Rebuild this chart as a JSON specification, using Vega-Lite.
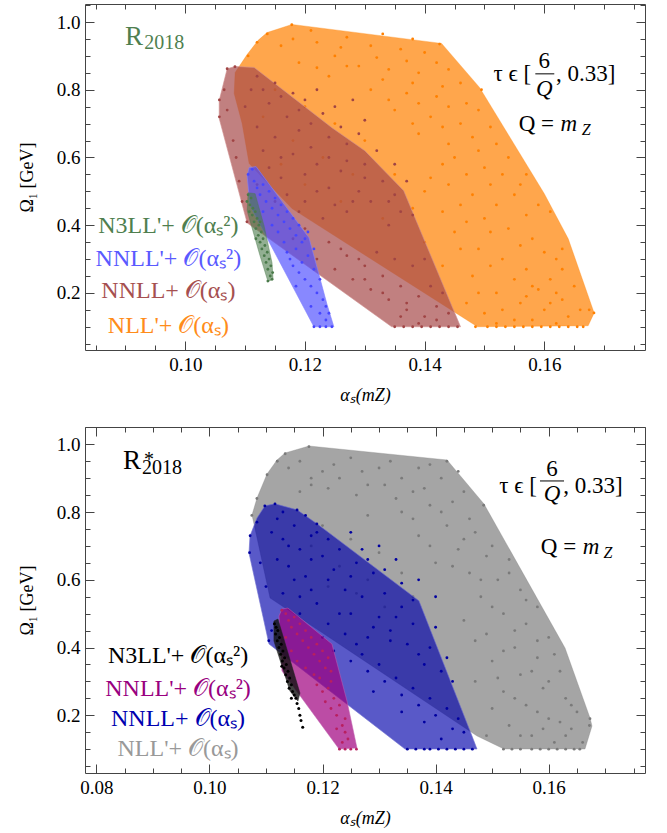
{
"$schema": "https://vega.github.io/schema/vega-lite/v6.json",
"padding": {"left": 17, "top": -5, "right": 10, "bottom": 5},
"background": "white",
"config": {
  "view": {"stroke": "#444", "strokeWidth": 1},
  "axis": {"labelFont": "Liberation Serif", "labelFontSize": 19, "labelColor": "#000", "tickColor": "#444", "domain": false, "grid": false, "titleFont": "Liberation Serif", "titleFontSize": 18, "titleFontWeight": "normal", "titleColor": "#000", "labelOverlap": false, "labelBound": false, "labelFlush": false}
},
"datasets": {
  "tp": [
    {"s":"NLLp","i":0,"x":0.11033,"y":0.904},{"s":"NLLp","i":1,"x":0.11217,"y":0.946},{"s":"NLLp","i":2,"x":0.11367,"y":0.969},{"s":"NLLp","i":3,"x":0.11783,"y":0.993},{"s":"NLLp","i":4,"x":0.14283,"y":0.937},{"s":"NLLp","i":5,"x":0.14917,"y":0.807},{"s":"NLLp","i":6,"x":0.16,"y":0.493},{"s":"NLLp","i":7,"x":0.164,"y":0.36},{"s":"NLLp","i":8,"x":0.16833,"y":0.141},{"s":"NLLp","i":9,"x":0.16733,"y":0.103},{"s":"NLLp","i":10,"x":0.14883,"y":0.1},{"s":"NLLp","i":11,"x":0.11783,"y":0.449},{"s":"NLLp","i":12,"x":0.11067,"y":0.582},{"s":"NLLp","i":13,"x":0.1095,"y":0.7},{"s":"NLLp","i":14,"x":0.10817,"y":0.789},{"s":"NLLp","i":15,"x":0.10833,"y":0.851},
    {"s":"NNLL","i":0,"x":0.107,"y":0.862},{"s":"NNLL","i":1,"x":0.10833,"y":0.869},{"s":"NNLL","i":2,"x":0.1115,"y":0.866},{"s":"NNLL","i":3,"x":0.1245,"y":0.688},{"s":"NNLL","i":4,"x":0.13,"y":0.62},{"s":"NNLL","i":5,"x":0.1365,"y":0.502},{"s":"NNLL","i":6,"x":0.146,"y":0.1},{"s":"NNLL","i":7,"x":0.1345,"y":0.1},{"s":"NNLL","i":8,"x":0.11033,"y":0.407},{"s":"NNLL","i":9,"x":0.10867,"y":0.517},{"s":"NNLL","i":10,"x":0.10567,"y":0.715},{"s":"NNLL","i":11,"x":0.10567,"y":0.768},
    {"s":"NNLLp","i":0,"x":0.11067,"y":0.57},{"s":"NNLLp","i":1,"x":0.11183,"y":0.573},{"s":"NNLLp","i":2,"x":0.12067,"y":0.363},{"s":"NNLLp","i":3,"x":0.12367,"y":0.167},{"s":"NNLLp","i":4,"x":0.12483,"y":0.1},{"s":"NNLLp","i":5,"x":0.1215,"y":0.1},{"s":"NNLLp","i":6,"x":0.11083,"y":0.457},{"s":"NNLLp","i":7,"x":0.11033,"y":0.546},
    {"s":"N3LLp","i":0,"x":0.1105,"y":0.496},{"s":"N3LLp","i":1,"x":0.11167,"y":0.493},{"s":"N3LLp","i":2,"x":0.11317,"y":0.398},{"s":"N3LLp","i":3,"x":0.1145,"y":0.289},{"s":"N3LLp","i":4,"x":0.11467,"y":0.241},{"s":"N3LLp","i":5,"x":0.11383,"y":0.233},{"s":"N3LLp","i":6,"x":0.1125,"y":0.309},{"s":"N3LLp","i":7,"x":0.11033,"y":0.443}
  ],
  "tq": [
    {"s":"NLLp","x":0.1485,"y":0.1},{"s":"NLLp","x":0.1505,"y":0.1},{"s":"NLLp","x":0.152,"y":0.1},{"s":"NLLp","x":0.1535,"y":0.1},{"s":"NLLp","x":0.155,"y":0.1},{"s":"NLLp","x":0.1565,"y":0.1},{"s":"NLLp","x":0.158,"y":0.1},{"s":"NLLp","x":0.1595,"y":0.1},{"s":"NLLp","x":0.161,"y":0.1},{"s":"NLLp","x":0.1625,"y":0.1},{"s":"NLLp","x":0.164,"y":0.1},{"s":"NLLp","x":0.1655,"y":0.1},{"s":"NLLp","x":0.1665,"y":0.1},
    {"s":"NLLp","x":0.1683,"y":0.141},{"s":"NLLp","x":0.1675,"y":0.15},{"s":"NLLp","x":0.163,"y":0.33},{"s":"NLLp","x":0.161,"y":0.44},{"s":"NLLp","x":0.1495,"y":0.8},{"s":"NLLp","x":0.1425,"y":0.935},{"s":"NLLp","x":0.1178,"y":0.992},{"s":"NLLp","x":0.1137,"y":0.965},{"s":"NLLp","x":0.112,"y":0.94},{"s":"NLLp","x":0.1105,"y":0.9},
    {"s":"NLLp","x":0.118,"y":0.95},{"s":"NLLp","x":0.122,"y":0.94},{"s":"NLLp","x":0.127,"y":0.955},{"s":"NLLp","x":0.131,"y":0.93},{"s":"NLLp","x":0.136,"y":0.92},{"s":"NLLp","x":0.14,"y":0.91},{"s":"NLLp","x":0.125,"y":0.9},{"s":"NLLp","x":0.119,"y":0.88},{"s":"NLLp","x":0.129,"y":0.87},{"s":"NLLp","x":0.134,"y":0.86},{"s":"NLLp","x":0.139,"y":0.85},{"s":"NLLp","x":0.144,"y":0.86},{"s":"NLLp","x":0.146,"y":0.82},{"s":"NLLp","x":0.124,"y":0.84},{"s":"NLLp","x":0.131,"y":0.8},{"s":"NLLp","x":0.137,"y":0.79},{"s":"NLLp","x":0.142,"y":0.78},{"s":"NLLp","x":0.147,"y":0.76},{"s":"NLLp","x":0.135,"y":0.74},{"s":"NLLp","x":0.141,"y":0.72},{"s":"NLLp","x":0.146,"y":0.7},{"s":"NLLp","x":0.151,"y":0.69},{"s":"NLLp","x":0.139,"y":0.67},{"s":"NLLp","x":0.144,"y":0.64},{"s":"NLLp","x":0.149,"y":0.62},{"s":"NLLp","x":0.154,"y":0.6},{"s":"NLLp","x":0.157,"y":0.55},{"s":"NLLp","x":0.143,"y":0.58},{"s":"NLLp","x":0.147,"y":0.55},{"s":"NLLp","x":0.151,"y":0.52},{"s":"NLLp","x":0.155,"y":0.49},{"s":"NLLp","x":0.159,"y":0.46},{"s":"NLLp","x":0.14,"y":0.5},{"s":"NLLp","x":0.146,"y":0.46},{"s":"NLLp","x":0.15,"y":0.42},{"s":"NLLp","x":0.154,"y":0.39},{"s":"NLLp","x":0.158,"y":0.36},{"s":"NLLp","x":0.162,"y":0.3},{"s":"NLLp","x":0.145,"y":0.38},{"s":"NLLp","x":0.149,"y":0.33},{"s":"NLLp","x":0.153,"y":0.3},{"s":"NLLp","x":0.157,"y":0.27},{"s":"NLLp","x":0.161,"y":0.24},{"s":"NLLp","x":0.165,"y":0.22},{"s":"NLLp","x":0.148,"y":0.25},{"s":"NLLp","x":0.152,"y":0.2},{"s":"NLLp","x":0.156,"y":0.17},{"s":"NLLp","x":0.16,"y":0.15},{"s":"NLLp","x":0.164,"y":0.13},{"s":"NLLp","x":0.15,"y":0.14},{"s":"NLLp","x":0.155,"y":0.12},{"s":"NLLp","x":0.159,"y":0.21},{"s":"NLLp","x":0.163,"y":0.18},
    {"s":"NLLp","x":0.133,"y":0.965},{"s":"NLLp","x":0.138,"y":0.95},{"s":"NLLp","x":0.121,"y":0.975},{"s":"NLLp","x":0.116,"y":0.93},{"s":"NLLp","x":0.126,"y":0.925},{"s":"NLLp","x":0.132,"y":0.895},{"s":"NLLp","x":0.137,"y":0.885},{"s":"NLLp","x":0.142,"y":0.88},{"s":"NLLp","x":0.127,"y":0.87},{"s":"NLLp","x":0.122,"y":0.865},{"s":"NLLp","x":0.133,"y":0.83},{"s":"NLLp","x":0.138,"y":0.82},{"s":"NLLp","x":0.143,"y":0.81},{"s":"NLLp","x":0.134,"y":0.77},{"s":"NLLp","x":0.139,"y":0.76},{"s":"NLLp","x":0.144,"y":0.75},{"s":"NLLp","x":0.149,"y":0.74},{"s":"NLLp","x":0.138,"y":0.7},{"s":"NLLp","x":0.143,"y":0.69},{"s":"NLLp","x":0.148,"y":0.66},{"s":"NLLp","x":0.152,"y":0.64},{"s":"NLLp","x":0.145,"y":0.6},{"s":"NLLp","x":0.15,"y":0.57},{"s":"NLLp","x":0.153,"y":0.55},{"s":"NLLp","x":0.156,"y":0.52},{"s":"NLLp","x":0.141,"y":0.54},{"s":"NLLp","x":0.144,"y":0.52},{"s":"NLLp","x":0.148,"y":0.49},{"s":"NLLp","x":0.152,"y":0.46},{"s":"NLLp","x":0.157,"y":0.43},{"s":"NLLp","x":0.143,"y":0.44},{"s":"NLLp","x":0.147,"y":0.41},{"s":"NLLp","x":0.151,"y":0.38},{"s":"NLLp","x":0.156,"y":0.34},{"s":"NLLp","x":0.16,"y":0.32},{"s":"NLLp","x":0.163,"y":0.27},{"s":"NLLp","x":0.146,"y":0.33},{"s":"NLLp","x":0.151,"y":0.28},{"s":"NLLp","x":0.155,"y":0.24},{"s":"NLLp","x":0.158,"y":0.22},{"s":"NLLp","x":0.162,"y":0.2},{"s":"NLLp","x":0.149,"y":0.2},{"s":"NLLp","x":0.153,"y":0.15},{"s":"NLLp","x":0.157,"y":0.19},{"s":"NLLp","x":0.161,"y":0.17},{"s":"NLLp","x":0.166,"y":0.15},{"s":"NLLp","x":0.158,"y":0.12},{"s":"NLLp","x":0.162,"y":0.11},{"s":"NLLp","x":0.152,"y":0.11},{"s":"NLLp","x":0.147,"y":0.17},
    {"s":"NLLp","x":0.115,"y":0.8},{"s":"NLLp","x":0.12,"y":0.75},{"s":"NLLp","x":0.125,"y":0.7},{"s":"NLLp","x":0.118,"y":0.65},{"s":"NLLp","x":0.123,"y":0.6},{"s":"NLLp","x":0.128,"y":0.55},{"s":"NLLp","x":0.13,"y":0.65},{"s":"NLLp","x":0.135,"y":0.55},{"s":"NLLp","x":0.12,"y":0.52},{"s":"NLLp","x":0.138,"y":0.45},{"s":"NLLp","x":0.133,"y":0.42},{"s":"NLLp","x":0.126,"y":0.47},{"s":"NLLp","x":0.14,"y":0.35},{"s":"NLLp","x":0.143,"y":0.28},{"s":"NLLp","x":0.116,"y":0.58},{"s":"NLLp","x":0.113,"y":0.72},
    {"s":"NNLL","x":0.107,"y":0.862},{"s":"NNLL","x":0.1083,"y":0.868},{"s":"NNLL","x":0.1057,"y":0.77},{"s":"NNLL","x":0.1057,"y":0.72},{"s":"NNLL","x":0.1065,"y":0.8},{"s":"NNLL","x":0.107,"y":0.74},{"s":"NNLL","x":0.108,"y":0.65},{"s":"NNLL","x":0.1085,"y":0.6},{"s":"NNLL","x":0.109,"y":0.53},{"s":"NNLL","x":0.1095,"y":0.47},{"s":"NNLL","x":0.1103,"y":0.41},
    {"s":"NNLL","x":0.135,"y":0.1},{"s":"NNLL","x":0.1365,"y":0.1},{"s":"NNLL","x":0.138,"y":0.1},{"s":"NNLL","x":0.1395,"y":0.1},{"s":"NNLL","x":0.141,"y":0.1},{"s":"NNLL","x":0.1425,"y":0.1},{"s":"NNLL","x":0.144,"y":0.1},{"s":"NNLL","x":0.1455,"y":0.1},
    {"s":"NNLL","x":0.122,"y":0.3},{"s":"NNLL","x":0.125,"y":0.27},{"s":"NNLL","x":0.128,"y":0.24},{"s":"NNLL","x":0.131,"y":0.21},{"s":"NNLL","x":0.134,"y":0.18},{"s":"NNLL","x":0.137,"y":0.15},{"s":"NNLL","x":0.14,"y":0.13},{"s":"NNLL","x":0.127,"y":0.31},{"s":"NNLL","x":0.13,"y":0.28},{"s":"NNLL","x":0.133,"y":0.25},{"s":"NNLL","x":0.136,"y":0.22},{"s":"NNLL","x":0.139,"y":0.19},{"s":"NNLL","x":0.142,"y":0.16},{"s":"NNLL","x":0.144,"y":0.14},{"s":"NNLL","x":0.118,"y":0.36},{"s":"NNLL","x":0.124,"y":0.35},{"s":"NNLL","x":0.132,"y":0.32},{"s":"NNLL","x":0.138,"y":0.28},{"s":"NNLL","x":0.141,"y":0.22},{"s":"NNLL","x":0.135,"y":0.3},
    {"s":"NNLL","x":0.112,"y":0.84},{"s":"NNLL","x":0.115,"y":0.82},{"s":"NNLL","x":0.118,"y":0.79},{"s":"NNLL","x":0.114,"y":0.76},{"s":"NNLL","x":0.117,"y":0.72},{"s":"NNLL","x":0.121,"y":0.7},{"s":"NNLL","x":0.119,"y":0.68},{"s":"NNLL","x":0.124,"y":0.66},{"s":"NNLL","x":0.127,"y":0.64},{"s":"NNLL","x":0.115,"y":0.66},{"s":"NNLL","x":0.118,"y":0.61},{"s":"NNLL","x":0.122,"y":0.58},{"s":"NNLL","x":0.126,"y":0.56},{"s":"NNLL","x":0.13,"y":0.58},{"s":"NNLL","x":0.133,"y":0.53},{"s":"NNLL","x":0.129,"y":0.5},{"s":"NNLL","x":0.124,"y":0.51},{"s":"NNLL","x":0.12,"y":0.55},{"s":"NNLL","x":0.113,"y":0.62},{"s":"NNLL","x":0.116,"y":0.54},{"s":"NNLL","x":0.131,"y":0.47},{"s":"NNLL","x":0.135,"y":0.49},{"s":"NNLL","x":0.127,"y":0.44},{"s":"NNLL","x":0.134,"y":0.4},{"s":"NNLL","x":0.138,"y":0.43},{"s":"NNLL","x":0.12,"y":0.47},{"s":"NNLL","x":0.123,"y":0.42},{"s":"NNLL","x":0.117,"y":0.49},{"s":"NNLL","x":0.112,"y":0.69},{"s":"NNLL","x":0.119,"y":0.74},{"s":"NNLL","x":0.125,"y":0.75},{"s":"NNLL","x":0.13,"y":0.71},{"s":"NNLL","x":0.128,"y":0.77},{"s":"NNLL","x":0.122,"y":0.8},
    {"s":"NNLL","x":0.113,"y":0.8},{"s":"NNLL","x":0.116,"y":0.78},{"s":"NNLL","x":0.12,"y":0.77},{"s":"NNLL","x":0.123,"y":0.73},{"s":"NNLL","x":0.126,"y":0.69},{"s":"NNLL","x":0.129,"y":0.67},{"s":"NNLL","x":0.132,"y":0.62},{"s":"NNLL","x":0.135,"y":0.58},{"s":"NNLL","x":0.137,"y":0.53},{"s":"NNLL","x":0.121,"y":0.63},{"s":"NNLL","x":0.124,"y":0.6},{"s":"NNLL","x":0.127,"y":0.59},{"s":"NNLL","x":0.13,"y":0.54},{"s":"NNLL","x":0.134,"y":0.47},{"s":"NNLL","x":0.136,"y":0.44},{"s":"NNLL","x":0.125,"y":0.46},{"s":"NNLL","x":0.128,"y":0.47},{"s":"NNLL","x":0.122,"y":0.5},{"s":"NNLL","x":0.119,"y":0.44},{"s":"NNLL","x":0.115,"y":0.47},{"s":"NNLL","x":0.112,"y":0.52},{"s":"NNLL","x":0.114,"y":0.57},{"s":"NNLL","x":0.116,"y":0.6},{"s":"NNLL","x":0.11,"y":0.75},{"s":"NNLL","x":0.111,"y":0.8},{"s":"NNLL","x":0.12,"y":0.39},{"s":"NNLL","x":0.126,"y":0.33},{"s":"NNLL","x":0.13,"y":0.24},{"s":"NNLL","x":0.133,"y":0.2},{"s":"NNLL","x":0.137,"y":0.17},{"s":"NNLL","x":0.142,"y":0.12},{"s":"NNLL","x":0.139,"y":0.11},{"s":"NNLL","x":0.136,"y":0.13},{"s":"NNLL","x":0.129,"y":0.3},{"s":"NNLL","x":0.14,"y":0.3},{"s":"NNLL","x":0.143,"y":0.2},
    {"s":"NNLLp","x":0.1215,"y":0.1},{"s":"NNLLp","x":0.1225,"y":0.1},{"s":"NNLLp","x":0.1235,"y":0.1},{"s":"NNLLp","x":0.1245,"y":0.1},{"s":"NNLLp","x":0.1105,"y":0.55},{"s":"NNLLp","x":0.1112,"y":0.565},{"s":"NNLLp","x":0.1115,"y":0.53},{"s":"NNLLp","x":0.112,"y":0.51},{"s":"NNLLp","x":0.1125,"y":0.49},{"s":"NNLLp","x":0.113,"y":0.52},{"s":"NNLLp","x":0.1135,"y":0.47},{"s":"NNLLp","x":0.114,"y":0.5},{"s":"NNLLp","x":0.1145,"y":0.45},{"s":"NNLLp","x":0.115,"y":0.48},{"s":"NNLLp","x":0.1155,"y":0.43},{"s":"NNLLp","x":0.116,"y":0.46},{"s":"NNLLp","x":0.1165,"y":0.41},{"s":"NNLLp","x":0.117,"y":0.44},{"s":"NNLLp","x":0.1175,"y":0.39},{"s":"NNLLp","x":0.118,"y":0.42},{"s":"NNLLp","x":0.1185,"y":0.37},{"s":"NNLLp","x":0.119,"y":0.4},{"s":"NNLLp","x":0.1195,"y":0.35},{"s":"NNLLp","x":0.12,"y":0.36},{"s":"NNLLp","x":0.1165,"y":0.35},{"s":"NNLLp","x":0.117,"y":0.32},{"s":"NNLLp","x":0.1175,"y":0.3},{"s":"NNLLp","x":0.118,"y":0.28},{"s":"NNLLp","x":0.1185,"y":0.33},{"s":"NNLLp","x":0.119,"y":0.26},{"s":"NNLLp","x":0.1195,"y":0.29},{"s":"NNLLp","x":0.12,"y":0.24},{"s":"NNLLp","x":0.1205,"y":0.31},{"s":"NNLLp","x":0.121,"y":0.22},{"s":"NNLLp","x":0.1215,"y":0.27},{"s":"NNLLp","x":0.122,"y":0.2},{"s":"NNLLp","x":0.1225,"y":0.24},{"s":"NNLLp","x":0.123,"y":0.18},{"s":"NNLLp","x":0.1235,"y":0.16},{"s":"NNLLp","x":0.1225,"y":0.14},{"s":"NNLLp","x":0.1235,"y":0.12},{"s":"NNLLp","x":0.124,"y":0.14},{"s":"NNLLp","x":0.121,"y":0.16},{"s":"NNLLp","x":0.1185,"y":0.22},{"s":"NNLLp","x":0.1155,"y":0.38},{"s":"NNLLp","x":0.1145,"y":0.4},{"s":"NNLLp","x":0.113,"y":0.44},{"s":"NNLLp","x":0.1215,"y":0.33},{"s":"NNLLp","x":0.1205,"y":0.38},
    {"s":"N3LLp","x":0.1105,"y":0.49},{"s":"N3LLp","x":0.111,"y":0.48},{"s":"N3LLp","x":0.1108,"y":0.46},{"s":"N3LLp","x":0.1113,"y":0.45},{"s":"N3LLp","x":0.1112,"y":0.43},{"s":"N3LLp","x":0.1117,"y":0.44},{"s":"N3LLp","x":0.1115,"y":0.41},{"s":"N3LLp","x":0.112,"y":0.42},{"s":"N3LLp","x":0.1118,"y":0.39},{"s":"N3LLp","x":0.1123,"y":0.4},{"s":"N3LLp","x":0.1122,"y":0.37},{"s":"N3LLp","x":0.1127,"y":0.38},{"s":"N3LLp","x":0.1125,"y":0.35},{"s":"N3LLp","x":0.113,"y":0.36},{"s":"N3LLp","x":0.1128,"y":0.33},{"s":"N3LLp","x":0.1133,"y":0.34},{"s":"N3LLp","x":0.1132,"y":0.31},{"s":"N3LLp","x":0.1137,"y":0.32},{"s":"N3LLp","x":0.1135,"y":0.29},{"s":"N3LLp","x":0.114,"y":0.3},{"s":"N3LLp","x":0.1138,"y":0.27},{"s":"N3LLp","x":0.1143,"y":0.28},{"s":"N3LLp","x":0.1142,"y":0.25},{"s":"N3LLp","x":0.1146,"y":0.26},{"s":"N3LLp","x":0.1145,"y":0.24},{"s":"N3LLp","x":0.1138,"y":0.235},{"s":"N3LLp","x":0.1103,"y":0.47},{"s":"N3LLp","x":0.1107,"y":0.44},{"s":"N3LLp","x":0.1125,"y":0.41},{"s":"N3LLp","x":0.1118,"y":0.36}
  ],
  "bp": [
    {"s":"NLLp","i":0,"x":0.10753,"y":0.7913},{"s":"NLLp","i":1,"x":0.10842,"y":0.8415},{"s":"NLLp","i":2,"x":0.11019,"y":0.9124},{"s":"NLLp","i":3,"x":0.11196,"y":0.9537},{"s":"NLLp","i":4,"x":0.11337,"y":0.9743},{"s":"NLLp","i":5,"x":0.11762,"y":0.995},{"s":"NLLp","i":6,"x":0.14202,"y":0.9537},{"s":"NLLp","i":7,"x":0.14856,"y":0.8238},{"s":"NLLp","i":8,"x":0.16289,"y":0.3987},{"s":"NLLp","i":9,"x":0.16731,"y":0.1921},{"s":"NLLp","i":10,"x":0.16766,"y":0.1685},{"s":"NLLp","i":11,"x":0.16642,"y":0.1005},{"s":"NLLp","i":12,"x":0.1521,"y":0.1005},{"s":"NLLp","i":13,"x":0.14733,"y":0.1389},{"s":"NLLp","i":14,"x":0.11072,"y":0.5463},{"s":"NLLp","i":15,"x":0.10842,"y":0.7234},
    {"s":"NNLL","i":0,"x":0.10982,"y":0.8183},{"s":"NNLL","i":1,"x":0.11159,"y":0.8242},{"s":"NNLL","i":2,"x":0.11549,"y":0.8065},{"s":"NNLL","i":3,"x":0.11903,"y":0.7652},{"s":"NNLL","i":4,"x":0.13706,"y":0.5378},{"s":"NNLL","i":5,"x":0.14608,"y":0.1541},{"s":"NNLL","i":6,"x":0.14732,"y":0.1005},{"s":"NNLL","i":7,"x":0.13459,"y":0.1005},{"s":"NNLL","i":8,"x":0.11054,"y":0.4105},{"s":"NNLL","i":9,"x":0.107,"y":0.6791},{"s":"NNLL","i":10,"x":0.10718,"y":0.7292},{"s":"NNLL","i":11,"x":0.10842,"y":0.7824},
    {"s":"NNLLp","i":0,"x":0.11283,"y":0.5136},{"s":"NNLLp","i":1,"x":0.11389,"y":0.5166},{"s":"NNLLp","i":2,"x":0.12167,"y":0.4105},{"s":"NNLLp","i":3,"x":0.12433,"y":0.2422},{"s":"NNLLp","i":4,"x":0.1261,"y":0.1035},{"s":"NNLLp","i":5,"x":0.12292,"y":0.1005},{"s":"NNLLp","i":6,"x":0.11283,"y":0.3308},{"s":"NNLLp","i":7,"x":0.1123,"y":0.4932},
    {"s":"N3LLp","i":0,"x":0.11141,"y":0.4782},{"s":"N3LLp","i":1,"x":0.11212,"y":0.4841},{"s":"N3LLp","i":2,"x":0.11601,"y":0.2657},{"s":"N3LLp","i":3,"x":0.11566,"y":0.2421},{"s":"N3LLp","i":4,"x":0.11424,"y":0.2717},{"s":"N3LLp","i":5,"x":0.11141,"y":0.4193}
  ],
  "bq": [
    {"s":"NLLp","x":0.152,"y":0.1},{"s":"NLLp","x":0.1535,"y":0.1},{"s":"NLLp","x":0.155,"y":0.1},{"s":"NLLp","x":0.157,"y":0.1},{"s":"NLLp","x":0.1585,"y":0.1},{"s":"NLLp","x":0.16,"y":0.1},{"s":"NLLp","x":0.1615,"y":0.1},{"s":"NLLp","x":0.163,"y":0.1},{"s":"NLLp","x":0.1645,"y":0.1},{"s":"NLLp","x":0.1655,"y":0.1},
    {"s":"NLLp","x":0.1176,"y":0.993},{"s":"NLLp","x":0.1134,"y":0.972},{"s":"NLLp","x":0.112,"y":0.95},{"s":"NLLp","x":0.1102,"y":0.91},{"s":"NLLp","x":0.1084,"y":0.84},{"s":"NLLp","x":0.1075,"y":0.79},{"s":"NLLp","x":0.1672,"y":0.17},{"s":"NLLp","x":0.1673,"y":0.19},{"s":"NLLp","x":0.1485,"y":0.82},{"s":"NLLp","x":0.142,"y":0.95},
    {"s":"NLLp","x":0.114,"y":0.93},{"s":"NLLp","x":0.118,"y":0.9},{"s":"NLLp","x":0.122,"y":0.94},{"s":"NLLp","x":0.127,"y":0.92},{"s":"NLLp","x":0.132,"y":0.95},{"s":"NLLp","x":0.137,"y":0.93},{"s":"NLLp","x":0.141,"y":0.9},{"s":"NLLp","x":0.116,"y":0.86},{"s":"NLLp","x":0.121,"y":0.87},{"s":"NLLp","x":0.126,"y":0.85},{"s":"NLLp","x":0.131,"y":0.88},{"s":"NLLp","x":0.136,"y":0.86},{"s":"NLLp","x":0.145,"y":0.86},{"s":"NLLp","x":0.139,"y":0.82},{"s":"NLLp","x":0.134,"y":0.8},{"s":"NLLp","x":0.128,"y":0.79},{"s":"NLLp","x":0.142,"y":0.76},{"s":"NLLp","x":0.147,"y":0.74},{"s":"NLLp","x":0.137,"y":0.73},{"s":"NLLp","x":0.144,"y":0.69},{"s":"NLLp","x":0.149,"y":0.67},{"s":"NLLp","x":0.153,"y":0.66},{"s":"NLLp","x":0.14,"y":0.65},{"s":"NLLp","x":0.146,"y":0.62},{"s":"NLLp","x":0.151,"y":0.6},{"s":"NLLp","x":0.155,"y":0.57},{"s":"NLLp","x":0.158,"y":0.52},{"s":"NLLp","x":0.148,"y":0.55},{"s":"NLLp","x":0.152,"y":0.5},{"s":"NLLp","x":0.156,"y":0.47},{"s":"NLLp","x":0.16,"y":0.43},{"s":"NLLp","x":0.145,"y":0.48},{"s":"NLLp","x":0.149,"y":0.44},{"s":"NLLp","x":0.154,"y":0.4},{"s":"NLLp","x":0.158,"y":0.37},{"s":"NLLp","x":0.162,"y":0.33},{"s":"NLLp","x":0.15,"y":0.36},{"s":"NLLp","x":0.155,"y":0.32},{"s":"NLLp","x":0.159,"y":0.28},{"s":"NLLp","x":0.163,"y":0.25},{"s":"NLLp","x":0.152,"y":0.27},{"s":"NLLp","x":0.156,"y":0.23},{"s":"NLLp","x":0.16,"y":0.19},{"s":"NLLp","x":0.164,"y":0.16},{"s":"NLLp","x":0.153,"y":0.17},{"s":"NLLp","x":0.157,"y":0.14},{"s":"NLLp","x":0.161,"y":0.12},{"s":"NLLp","x":0.149,"y":0.14},{"s":"NLLp","x":0.165,"y":0.21},{"s":"NLLp","x":0.147,"y":0.3},
    {"s":"NLLp","x":0.116,"y":0.95},{"s":"NLLp","x":0.12,"y":0.92},{"s":"NLLp","x":0.125,"y":0.96},{"s":"NLLp","x":0.13,"y":0.93},{"s":"NLLp","x":0.134,"y":0.9},{"s":"NLLp","x":0.139,"y":0.94},{"s":"NLLp","x":0.144,"y":0.92},{"s":"NLLp","x":0.118,"y":0.88},{"s":"NLLp","x":0.123,"y":0.9},{"s":"NLLp","x":0.128,"y":0.88},{"s":"NLLp","x":0.133,"y":0.84},{"s":"NLLp","x":0.138,"y":0.87},{"s":"NLLp","x":0.143,"y":0.83},{"s":"NLLp","x":0.136,"y":0.78},{"s":"NLLp","x":0.141,"y":0.8},{"s":"NLLp","x":0.146,"y":0.78},{"s":"NLLp","x":0.139,"y":0.7},{"s":"NLLp","x":0.145,"y":0.72},{"s":"NLLp","x":0.15,"y":0.7},{"s":"NLLp","x":0.143,"y":0.64},{"s":"NLLp","x":0.148,"y":0.6},{"s":"NLLp","x":0.153,"y":0.62},{"s":"NLLp","x":0.156,"y":0.54},{"s":"NLLp","x":0.15,"y":0.52},{"s":"NLLp","x":0.154,"y":0.45},{"s":"NLLp","x":0.158,"y":0.42},{"s":"NLLp","x":0.161,"y":0.38},{"s":"NLLp","x":0.147,"y":0.42},{"s":"NLLp","x":0.152,"y":0.39},{"s":"NLLp","x":0.157,"y":0.33},{"s":"NLLp","x":0.16,"y":0.3},{"s":"NLLp","x":0.164,"y":0.23},{"s":"NLLp","x":0.151,"y":0.31},{"s":"NLLp","x":0.154,"y":0.25},{"s":"NLLp","x":0.158,"y":0.21},{"s":"NLLp","x":0.162,"y":0.18},{"s":"NLLp","x":0.166,"y":0.12},{"s":"NLLp","x":0.155,"y":0.14},{"s":"NLLp","x":0.159,"y":0.16},{"s":"NLLp","x":0.163,"y":0.14},{"s":"NLLp","x":0.15,"y":0.22},
    {"s":"NLLp","x":0.12,"y":0.76},{"s":"NLLp","x":0.125,"y":0.72},{"s":"NLLp","x":0.13,"y":0.68},{"s":"NLLp","x":0.118,"y":0.7},{"s":"NLLp","x":0.123,"y":0.64},{"s":"NLLp","x":0.128,"y":0.6},{"s":"NLLp","x":0.134,"y":0.62},{"s":"NLLp","x":0.136,"y":0.55},{"s":"NLLp","x":0.131,"y":0.52},{"s":"NLLp","x":0.126,"y":0.56},{"s":"NLLp","x":0.121,"y":0.58},
    {"s":"NNLL","x":0.135,"y":0.1},{"s":"NNLL","x":0.1365,"y":0.1},{"s":"NNLL","x":0.138,"y":0.1},{"s":"NNLL","x":0.139,"y":0.1},{"s":"NNLL","x":0.1405,"y":0.1},{"s":"NNLL","x":0.142,"y":0.1},{"s":"NNLL","x":0.1435,"y":0.1},{"s":"NNLL","x":0.145,"y":0.1},{"s":"NNLL","x":0.1465,"y":0.1},
    {"s":"NNLL","x":0.1098,"y":0.818},{"s":"NNLL","x":0.1116,"y":0.824},{"s":"NNLL","x":0.1155,"y":0.806},{"s":"NNLL","x":0.119,"y":0.765},{"s":"NNLL","x":0.1071,"y":0.68},{"s":"NNLL","x":0.1072,"y":0.73},{"s":"NNLL","x":0.1084,"y":0.77},{"s":"NNLL","x":0.109,"y":0.65},{"s":"NNLL","x":0.11,"y":0.58},{"s":"NNLL","x":0.1105,"y":0.42},{"s":"NNLL","x":0.111,"y":0.45},
    {"s":"NNLL","x":0.122,"y":0.39},{"s":"NNLL","x":0.125,"y":0.36},{"s":"NNLL","x":0.128,"y":0.33},{"s":"NNLL","x":0.131,"y":0.3},{"s":"NNLL","x":0.134,"y":0.26},{"s":"NNLL","x":0.137,"y":0.23},{"s":"NNLL","x":0.14,"y":0.2},{"s":"NNLL","x":0.143,"y":0.16},{"s":"NNLL","x":0.127,"y":0.38},{"s":"NNLL","x":0.13,"y":0.35},{"s":"NNLL","x":0.133,"y":0.31},{"s":"NNLL","x":0.136,"y":0.28},{"s":"NNLL","x":0.139,"y":0.25},{"s":"NNLL","x":0.142,"y":0.22},{"s":"NNLL","x":0.145,"y":0.15},{"s":"NNLL","x":0.138,"y":0.18},{"s":"NNLL","x":0.141,"y":0.13},{"s":"NNLL","x":0.134,"y":0.21},{"s":"NNLL","x":0.129,"y":0.27},{"s":"NNLL","x":0.144,"y":0.19},
    {"s":"NNLL","x":0.112,"y":0.78},{"s":"NNLL","x":0.115,"y":0.76},{"s":"NNLL","x":0.118,"y":0.73},{"s":"NNLL","x":0.113,"y":0.72},{"s":"NNLL","x":0.116,"y":0.69},{"s":"NNLL","x":0.12,"y":0.67},{"s":"NNLL","x":0.123,"y":0.69},{"s":"NNLL","x":0.126,"y":0.65},{"s":"NNLL","x":0.129,"y":0.62},{"s":"NNLL","x":0.114,"y":0.64},{"s":"NNLL","x":0.117,"y":0.61},{"s":"NNLL","x":0.121,"y":0.6},{"s":"NNLL","x":0.124,"y":0.57},{"s":"NNLL","x":0.127,"y":0.55},{"s":"NNLL","x":0.131,"y":0.56},{"s":"NNLL","x":0.134,"y":0.52},{"s":"NNLL","x":0.13,"y":0.49},{"s":"NNLL","x":0.125,"y":0.5},{"s":"NNLL","x":0.119,"y":0.53},{"s":"NNLL","x":0.116,"y":0.55},{"s":"NNLL","x":0.132,"y":0.45},{"s":"NNLL","x":0.136,"y":0.47},{"s":"NNLL","x":0.128,"y":0.43},{"s":"NNLL","x":0.135,"y":0.41},{"s":"NNLL","x":0.139,"y":0.4},{"s":"NNLL","x":0.121,"y":0.47},{"s":"NNLL","x":0.124,"y":0.44},{"s":"NNLL","x":0.119,"y":0.74},{"s":"NNLL","x":0.125,"y":0.74},{"s":"NNLL","x":0.13,"y":0.7},{"s":"NNLL","x":0.133,"y":0.66},{"s":"NNLL","x":0.137,"y":0.6},{"s":"NNLL","x":0.14,"y":0.55},{"s":"NNLL","x":0.138,"y":0.35},{"s":"NNLL","x":0.141,"y":0.33},
    {"s":"NNLL","x":0.113,"y":0.8},{"s":"NNLL","x":0.117,"y":0.79},{"s":"NNLL","x":0.114,"y":0.7},{"s":"NNLL","x":0.118,"y":0.66},{"s":"NNLL","x":0.122,"y":0.63},{"s":"NNLL","x":0.125,"y":0.61},{"s":"NNLL","x":0.128,"y":0.66},{"s":"NNLL","x":0.131,"y":0.63},{"s":"NNLL","x":0.134,"y":0.59},{"s":"NNLL","x":0.136,"y":0.54},{"s":"NNLL","x":0.133,"y":0.49},{"s":"NNLL","x":0.129,"y":0.46},{"s":"NNLL","x":0.126,"y":0.41},{"s":"NNLL","x":0.123,"y":0.5},{"s":"NNLL","x":0.118,"y":0.57},{"s":"NNLL","x":0.115,"y":0.6},{"s":"NNLL","x":0.112,"y":0.66},{"s":"NNLL","x":0.121,"y":0.72},{"s":"NNLL","x":0.127,"y":0.69},{"s":"NNLL","x":0.132,"y":0.42},{"s":"NNLL","x":0.137,"y":0.38},{"s":"NNLL","x":0.14,"y":0.46},{"s":"NNLL","x":0.142,"y":0.37},{"s":"NNLL","x":0.143,"y":0.3},{"s":"NNLL","x":0.111,"y":0.74},{"s":"NNLL","x":0.113,"y":0.56},{"s":"NNLL","x":0.116,"y":0.5},{"s":"NNLL","x":0.12,"y":0.43},
    {"s":"NNLLp","x":0.123,"y":0.1},{"s":"NNLLp","x":0.124,"y":0.1},{"s":"NNLLp","x":0.125,"y":0.1},{"s":"NNLLp","x":0.126,"y":0.1},{"s":"NNLLp","x":0.1128,"y":0.51},{"s":"NNLLp","x":0.1135,"y":0.5},{"s":"NNLLp","x":0.114,"y":0.48},{"s":"NNLLp","x":0.1145,"y":0.46},{"s":"NNLLp","x":0.115,"y":0.49},{"s":"NNLLp","x":0.1155,"y":0.44},{"s":"NNLLp","x":0.116,"y":0.47},{"s":"NNLLp","x":0.1165,"y":0.42},{"s":"NNLLp","x":0.117,"y":0.45},{"s":"NNLLp","x":0.1175,"y":0.4},{"s":"NNLLp","x":0.118,"y":0.43},{"s":"NNLLp","x":0.1185,"y":0.38},{"s":"NNLLp","x":0.119,"y":0.41},{"s":"NNLLp","x":0.1195,"y":0.36},{"s":"NNLLp","x":0.12,"y":0.39},{"s":"NNLLp","x":0.1205,"y":0.34},{"s":"NNLLp","x":0.121,"y":0.37},{"s":"NNLLp","x":0.1215,"y":0.3},{"s":"NNLLp","x":0.1185,"y":0.32},{"s":"NNLLp","x":0.119,"y":0.29},{"s":"NNLLp","x":0.1195,"y":0.31},{"s":"NNLLp","x":0.12,"y":0.27},{"s":"NNLLp","x":0.1205,"y":0.24},{"s":"NNLLp","x":0.121,"y":0.28},{"s":"NNLLp","x":0.1215,"y":0.22},{"s":"NNLLp","x":0.122,"y":0.25},{"s":"NNLLp","x":0.1225,"y":0.2},{"s":"NNLLp","x":0.123,"y":0.23},{"s":"NNLLp","x":0.1235,"y":0.17},{"s":"NNLLp","x":0.124,"y":0.15},{"s":"NNLLp","x":0.1245,"y":0.13},{"s":"NNLLp","x":0.1235,"y":0.12},{"s":"NNLLp","x":0.1225,"y":0.16},{"s":"NNLLp","x":0.1145,"y":0.39},{"s":"NNLLp","x":0.1155,"y":0.36},{"s":"NNLLp","x":0.117,"y":0.34},{"s":"NNLLp","x":0.1135,"y":0.43},{"s":"NNLLp","x":0.124,"y":0.19},{"s":"NNLLp","x":0.1215,"y":0.33},
    {"s":"N3LLp","x":0.1115,"y":0.47},{"s":"N3LLp","x":0.1118,"y":0.46},{"s":"N3LLp","x":0.1117,"y":0.44},{"s":"N3LLp","x":0.1121,"y":0.45},{"s":"N3LLp","x":0.112,"y":0.42},{"s":"N3LLp","x":0.1124,"y":0.43},{"s":"N3LLp","x":0.1123,"y":0.4},{"s":"N3LLp","x":0.1127,"y":0.41},{"s":"N3LLp","x":0.1126,"y":0.38},{"s":"N3LLp","x":0.113,"y":0.39},{"s":"N3LLp","x":0.1129,"y":0.36},{"s":"N3LLp","x":0.1133,"y":0.37},{"s":"N3LLp","x":0.1132,"y":0.34},{"s":"N3LLp","x":0.1136,"y":0.35},{"s":"N3LLp","x":0.1135,"y":0.32},{"s":"N3LLp","x":0.1139,"y":0.33},{"s":"N3LLp","x":0.1138,"y":0.3},{"s":"N3LLp","x":0.1142,"y":0.31},{"s":"N3LLp","x":0.1141,"y":0.28},{"s":"N3LLp","x":0.1145,"y":0.29},{"s":"N3LLp","x":0.1147,"y":0.27},{"s":"N3LLp","x":0.115,"y":0.26},{"s":"N3LLp","x":0.1153,"y":0.25},{"s":"N3LLp","x":0.1155,"y":0.235},{"s":"N3LLp","x":0.1158,"y":0.22},{"s":"N3LLp","x":0.116,"y":0.2},{"s":"N3LLp","x":0.1162,"y":0.185},{"s":"N3LLp","x":0.1165,"y":0.165},{"s":"N3LLp","x":0.1145,"y":0.25},{"s":"N3LLp","x":0.1128,"y":0.345}
  ],
  "tt": [
    {"role":"leg","s":"N3LLp","t":"N3LL'+ 𝒪(αₛ²)","x":0.09717,"y":0.398},
    {"role":"leg","s":"NNLLp","t":"NNLL'+ 𝒪(αₛ²)","x":0.09717,"y":0.3006},
    {"role":"leg","s":"NNLL","t":"NNLL+ 𝒪(αₛ)","x":0.09717,"y":0.2059},
    {"role":"leg","s":"NLLp","t":"NLL'+ 𝒪(αₛ)","x":0.09717,"y":0.1024},
    {"role":"ann","t":"τ ϵ [","x":0.15467,"y":0.827},
    {"role":"ann","t":"6","x":0.16,"y":0.8657},
    {"role":"ann","t":", 0.33]","x":0.16692,"y":0.827},
    {"role":"ann","t":"Q =","x":0.15867,"y":0.679},
    {"role":"it","t":"Q","x":0.16,"y":0.783},
    {"role":"it","t":"m","x":0.16408,"y":0.679},
    {"role":"sub","t":"Z","x":0.167,"y":0.667},
    {"role":"R","t":"R","x":0.09142,"y":0.9308},
    {"role":"R2","t":"2018","x":0.0965,"y":0.919},
    {"role":"bar","x":0.1585,"x2":0.16167,"y":0.847}
  ],
  "bt": [
    {"role":"leg","s":"N3LLp","t":"N3LL'+ 𝒪(αₛ²)","x":0.09445,"y":0.375},
    {"role":"leg","s":"NNLLp","t":"NNLL'+ 𝒪(αₛ²)","x":0.09445,"y":0.2774},
    {"role":"leg","s":"NNLL","t":"NNLL+ 𝒪(αₛ)","x":0.09445,"y":0.189},
    {"role":"leg","s":"NLLp","t":"NLL'+ 𝒪(αₛ)","x":0.09445,"y":0.1005},
    {"role":"ann","t":"τ ϵ [","x":0.15457,"y":0.8562},
    {"role":"ann","t":"6","x":0.16058,"y":0.9064},
    {"role":"ann","t":", 0.33]","x":0.16783,"y":0.8562},
    {"role":"ann","t":"Q =","x":0.16173,"y":0.676},
    {"role":"it","t":"Q","x":0.16058,"y":0.8327},
    {"role":"it","t":"m","x":0.16748,"y":0.676},
    {"role":"sub","t":"Z","x":0.17049,"y":0.6644},
    {"role":"R","t":"R","x":0.08631,"y":0.9272},
    {"role":"R2","t":"2018","x":0.09162,"y":0.9124},
    {"role":"R2","t":"*","x":0.0893,"y":0.936},
    {"role":"bar","x":0.15846,"x2":0.16271,"y":0.8917}
  ]
},
"resolve": {"scale": {"color": "independent"}},
"spacing": 77,
"bounds": "flush",
"vconcat": [
  {
    "width": 560, "height": 346,
    "encoding": {
      "x": {"field": "x", "type": "quantitative", "scale": {"domain": [0.08324, 0.17683], "nice": false, "zero": false}, "axis": null},
      "y": {"field": "y", "type": "quantitative", "scale": {"domain": [0.0314, 1.0533], "nice": false, "zero": false}, "axis": null}
    },
    "resolve": {"axis": {"x": "independent", "y": "independent"}},
    "layer": [
      {"data": {"name": "tp"}, "transform": [{"filter": "datum.s=='NLLp'"}],
       "mark": {"type": "line", "interpolate": "linear-closed", "fill": "#ff8000", "fillOpacity": 0.7, "stroke": "#ff8000", "strokeOpacity": 0.3, "strokeWidth": 1},
       "encoding": {
         "order": {"field": "i", "type": "quantitative"},
         "x": {"field": "x", "type": "quantitative", "scale": {"domain": [0.08324, 0.17683], "nice": false, "zero": false},
           "axis": {"orient": "bottom", "values": [0.085,0.09,0.095,0.1,0.105,0.11,0.115,0.12,0.125,0.13,0.135,0.14,0.145,0.15,0.155,0.16,0.165,0.17,0.175], "labelExpr": "abs(datum.value*50-round(datum.value*50))<0.001 ? format(datum.value,'.2f') : ''", "tickSize": {"condition": {"test": "abs(datum.value*50-round(datum.value*50))<0.001", "value": -9}, "value": -5}, "labelPadding": 14, "title": "αₛ(mZ)", "titleFontStyle": "italic", "titlePadding": 8}},
         "y": {"field": "y", "type": "quantitative", "scale": {"domain": [0.0314, 1.0533], "nice": false, "zero": false},
           "axis": {"orient": "left", "values": [0.05,0.1,0.15,0.2,0.25,0.3,0.35,0.4,0.45,0.5,0.55,0.6,0.65,0.7,0.75,0.8,0.85,0.9,0.95,1.0,1.05], "labelExpr": "abs(datum.value*5-round(datum.value*5))<0.001 ? format(datum.value,'.1f') : ''", "tickSize": {"condition": {"test": "abs(datum.value*5-round(datum.value*5))<0.001", "value": -9}, "value": -5}, "labelPadding": 14, "title": "Ω₁ [GeV]", "titlePadding": 20}}
       }},
      {"data": {"name": "tq"}, "transform": [{"filter": "datum.s=='NLLp'"}],
       "mark": {"type": "circle", "size": 8, "opacity": 1, "color": "#ff8000"},
       "encoding": {
         "x": {"field": "x", "type": "quantitative", "scale": {"domain": [0.08324, 0.17683], "nice": false, "zero": false},
           "axis": {"orient": "top", "values": [0.085,0.09,0.095,0.1,0.105,0.11,0.115,0.12,0.125,0.13,0.135,0.14,0.145,0.15,0.155,0.16,0.165,0.17,0.175], "labels": false, "tickSize": {"condition": {"test": "abs(datum.value*50-round(datum.value*50))<0.001", "value": -9}, "value": -5}, "title": null}},
         "y": {"field": "y", "type": "quantitative", "scale": {"domain": [0.0314, 1.0533], "nice": false, "zero": false},
           "axis": {"orient": "right", "values": [0.05,0.1,0.15,0.2,0.25,0.3,0.35,0.4,0.45,0.5,0.55,0.6,0.65,0.7,0.75,0.8,0.85,0.9,0.95,1.0,1.05], "labels": false, "tickSize": {"condition": {"test": "abs(datum.value*5-round(datum.value*5))<0.001", "value": -9}, "value": -5}, "title": null}}
       }},
      {"data": {"name": "tp"}, "transform": [{"filter": "datum.s=='NNLL'"}],
       "mark": {"type": "line", "interpolate": "linear-closed", "fill": "#a64a4a", "fillOpacity": 0.7, "stroke": "#d09090", "strokeOpacity": 0.6, "strokeWidth": 1},
       "encoding": {"order": {"field": "i", "type": "quantitative"}}},
      {"data": {"name": "tq"}, "transform": [{"filter": "datum.s=='NNLL'"}],
       "mark": {"type": "circle", "size": 8, "opacity": 1, "color": "#a04444"}},
      {"data": {"name": "tp"}, "transform": [{"filter": "datum.s=='NNLLp'"}],
       "mark": {"type": "line", "interpolate": "linear-closed", "fill": "#4a4aff", "fillOpacity": 0.66, "stroke": "#8080ff", "strokeOpacity": 0.6, "strokeWidth": 1},
       "encoding": {"order": {"field": "i", "type": "quantitative"}}},
      {"data": {"name": "tq"}, "transform": [{"filter": "datum.s=='NNLLp'"}],
       "mark": {"type": "circle", "size": 8, "opacity": 1, "color": "#4646ff"}},
      {"data": {"name": "tp"}, "transform": [{"filter": "datum.s=='N3LLp'"}],
       "mark": {"type": "line", "interpolate": "linear-closed", "fill": "#4a7a4a", "fillOpacity": 0.6, "stroke": "#4a7a4a", "strokeOpacity": 0.4, "strokeWidth": 1},
       "encoding": {"order": {"field": "i", "type": "quantitative"}}},
      {"data": {"name": "tq"}, "transform": [{"filter": "datum.s=='N3LLp'"}],
       "mark": {"type": "circle", "size": 8, "opacity": 1, "color": "#4a7a4a"}},
      {"data": {"name": "tt"}, "transform": [{"filter": "datum.role=='leg'"}],
       "mark": {"type": "text", "font": "Liberation Serif", "fontSize": 24, "align": "center", "baseline": "middle"},
       "encoding": {"text": {"field": "t"}, "color": {"field": "s", "type": "nominal", "scale": {"domain": ["N3LLp", "NNLLp", "NNLL", "NLLp"], "range": ["#4f7f4f", "#5a5aff", "#a65050", "#ff8c1a"]}, "legend": null}}},
      {"data": {"name": "tt"}, "transform": [{"filter": "datum.role=='ann'"}],
       "mark": {"type": "text", "font": "Liberation Serif", "fontSize": 23, "align": "center", "baseline": "alphabetic", "color": "#000"},
       "encoding": {"text": {"field": "t"}}},
      {"data": {"name": "tt"}, "transform": [{"filter": "datum.role=='it'"}],
       "mark": {"type": "text", "font": "Liberation Serif", "fontSize": 23, "fontStyle": "italic", "align": "center", "baseline": "alphabetic", "color": "#000"},
       "encoding": {"text": {"field": "t"}}},
      {"data": {"name": "tt"}, "transform": [{"filter": "datum.role=='sub'"}],
       "mark": {"type": "text", "font": "Liberation Serif", "fontSize": 16, "fontStyle": "italic", "align": "center", "baseline": "alphabetic", "color": "#000"},
       "encoding": {"text": {"field": "t"}}},
      {"data": {"name": "tt"}, "transform": [{"filter": "datum.role=='R'"}],
       "mark": {"type": "text", "font": "Liberation Serif", "fontSize": 27, "align": "center", "baseline": "alphabetic", "color": "#4f7f4f"},
       "encoding": {"text": {"field": "t"}}},
      {"data": {"name": "tt"}, "transform": [{"filter": "datum.role=='R2'"}],
       "mark": {"type": "text", "font": "Liberation Serif", "fontSize": 20, "align": "center", "baseline": "alphabetic", "color": "#4f7f4f"},
       "encoding": {"text": {"field": "t"}}},
      {"data": {"name": "tt"}, "transform": [{"filter": "datum.role=='bar'"}],
       "mark": {"type": "rule", "color": "#000", "strokeWidth": 1},
       "encoding": {"x2": {"field": "x2"}}}
    ]
  },
  {
    "width": 560, "height": 346,
    "encoding": {
      "x": {"field": "x", "type": "quantitative", "scale": {"domain": [0.078, 0.17703], "nice": false, "zero": false}, "axis": null},
      "y": {"field": "y", "type": "quantitative", "scale": {"domain": [0.0297, 1.051], "nice": false, "zero": false}, "axis": null}
    },
    "resolve": {"axis": {"x": "independent", "y": "independent"}},
    "layer": [
      {"data": {"name": "bp"}, "transform": [{"filter": "datum.s=='NLLp'"}],
       "mark": {"type": "line", "interpolate": "linear-closed", "fill": "#7f7f7f", "fillOpacity": 0.7, "stroke": "#7f7f7f", "strokeOpacity": 0.3, "strokeWidth": 1},
       "encoding": {
         "order": {"field": "i", "type": "quantitative"},
         "x": {"field": "x", "type": "quantitative", "scale": {"domain": [0.078, 0.17703], "nice": false, "zero": false},
           "axis": {"orient": "bottom", "values": [0.08,0.085,0.09,0.095,0.1,0.105,0.11,0.115,0.12,0.125,0.13,0.135,0.14,0.145,0.15,0.155,0.16,0.165,0.17,0.175], "labelExpr": "abs(datum.value*50-round(datum.value*50))<0.001 ? format(datum.value,'.2f') : ''", "tickSize": {"condition": {"test": "abs(datum.value*50-round(datum.value*50))<0.001", "value": -9}, "value": -5}, "labelPadding": 14, "title": "αₛ(mZ)", "titleFontStyle": "italic", "titlePadding": 8}},
         "y": {"field": "y", "type": "quantitative", "scale": {"domain": [0.0297, 1.051], "nice": false, "zero": false},
           "axis": {"orient": "left", "values": [0.05,0.1,0.15,0.2,0.25,0.3,0.35,0.4,0.45,0.5,0.55,0.6,0.65,0.7,0.75,0.8,0.85,0.9,0.95,1.0,1.05], "labelExpr": "abs(datum.value*5-round(datum.value*5))<0.001 ? format(datum.value,'.1f') : ''", "tickSize": {"condition": {"test": "abs(datum.value*5-round(datum.value*5))<0.001", "value": -9}, "value": -5}, "labelPadding": 14, "title": "Ω₁ [GeV]", "titlePadding": 20}}
       }},
      {"data": {"name": "bq"}, "transform": [{"filter": "datum.s=='NLLp'"}],
       "mark": {"type": "circle", "size": 8, "opacity": 1, "color": "#7a7a7a"},
       "encoding": {
         "x": {"field": "x", "type": "quantitative", "scale": {"domain": [0.078, 0.17703], "nice": false, "zero": false},
           "axis": {"orient": "top", "values": [0.08,0.085,0.09,0.095,0.1,0.105,0.11,0.115,0.12,0.125,0.13,0.135,0.14,0.145,0.15,0.155,0.16,0.165,0.17,0.175], "labels": false, "tickSize": {"condition": {"test": "abs(datum.value*50-round(datum.value*50))<0.001", "value": -9}, "value": -5}, "title": null}},
         "y": {"field": "y", "type": "quantitative", "scale": {"domain": [0.0297, 1.051], "nice": false, "zero": false},
           "axis": {"orient": "right", "values": [0.05,0.1,0.15,0.2,0.25,0.3,0.35,0.4,0.45,0.5,0.55,0.6,0.65,0.7,0.75,0.8,0.85,0.9,0.95,1.0,1.05], "labels": false, "tickSize": {"condition": {"test": "abs(datum.value*5-round(datum.value*5))<0.001", "value": -9}, "value": -5}, "title": null}}
       }},
      {"data": {"name": "bp"}, "transform": [{"filter": "datum.s=='NNLL'"}],
       "mark": {"type": "line", "interpolate": "linear-closed", "fill": "#0000aa", "fillOpacity": 0.65, "stroke": "#7070d0", "strokeOpacity": 0.6, "strokeWidth": 1},
       "encoding": {"order": {"field": "i", "type": "quantitative"}}},
      {"data": {"name": "bq"}, "transform": [{"filter": "datum.s=='NNLL'"}],
       "mark": {"type": "circle", "size": 8, "opacity": 1, "color": "#0000a0"}},
      {"data": {"name": "bp"}, "transform": [{"filter": "datum.s=='NNLLp'"}],
       "mark": {"type": "line", "interpolate": "linear-closed", "fill": "#a0007f", "fillOpacity": 0.7, "stroke": "#c060b0", "strokeOpacity": 0.5, "strokeWidth": 1},
       "encoding": {"order": {"field": "i", "type": "quantitative"}}},
      {"data": {"name": "bq"}, "transform": [{"filter": "datum.s=='NNLLp'"}],
       "mark": {"type": "circle", "size": 8, "opacity": 1, "color": "#b82060"}},
      {"data": {"name": "bp"}, "transform": [{"filter": "datum.s=='N3LLp'"}],
       "mark": {"type": "line", "interpolate": "linear-closed", "fill": "#111111", "fillOpacity": 0.8, "stroke": "#222", "strokeOpacity": 0.5, "strokeWidth": 1},
       "encoding": {"order": {"field": "i", "type": "quantitative"}}},
      {"data": {"name": "bq"}, "transform": [{"filter": "datum.s=='N3LLp'"}],
       "mark": {"type": "circle", "size": 9, "opacity": 1, "color": "#000"}},
      {"data": {"name": "bt"}, "transform": [{"filter": "datum.role=='leg'"}],
       "mark": {"type": "text", "font": "Liberation Serif", "fontSize": 24, "align": "center", "baseline": "middle"},
       "encoding": {"text": {"field": "t"}, "color": {"field": "s", "type": "nominal", "scale": {"domain": ["N3LLp", "NNLLp", "NNLL", "NLLp"], "range": ["#000000", "#990080", "#0000b0", "#999999"]}, "legend": null}}},
      {"data": {"name": "bt"}, "transform": [{"filter": "datum.role=='ann'"}],
       "mark": {"type": "text", "font": "Liberation Serif", "fontSize": 23, "align": "center", "baseline": "alphabetic", "color": "#000"},
       "encoding": {"text": {"field": "t"}}},
      {"data": {"name": "bt"}, "transform": [{"filter": "datum.role=='it'"}],
       "mark": {"type": "text", "font": "Liberation Serif", "fontSize": 23, "fontStyle": "italic", "align": "center", "baseline": "alphabetic", "color": "#000"},
       "encoding": {"text": {"field": "t"}}},
      {"data": {"name": "bt"}, "transform": [{"filter": "datum.role=='sub'"}],
       "mark": {"type": "text", "font": "Liberation Serif", "fontSize": 16, "fontStyle": "italic", "align": "center", "baseline": "alphabetic", "color": "#000"},
       "encoding": {"text": {"field": "t"}}},
      {"data": {"name": "bt"}, "transform": [{"filter": "datum.role=='R'"}],
       "mark": {"type": "text", "font": "Liberation Serif", "fontSize": 27, "align": "center", "baseline": "alphabetic", "color": "#000"},
       "encoding": {"text": {"field": "t"}}},
      {"data": {"name": "bt"}, "transform": [{"filter": "datum.role=='R2'"}],
       "mark": {"type": "text", "font": "Liberation Serif", "fontSize": 20, "align": "center", "baseline": "alphabetic", "color": "#000"},
       "encoding": {"text": {"field": "t"}}},
      {"data": {"name": "bt"}, "transform": [{"filter": "datum.role=='bar'"}],
       "mark": {"type": "rule", "color": "#000", "strokeWidth": 1},
       "encoding": {"x2": {"field": "x2"}}}
    ]
  }
]
}
